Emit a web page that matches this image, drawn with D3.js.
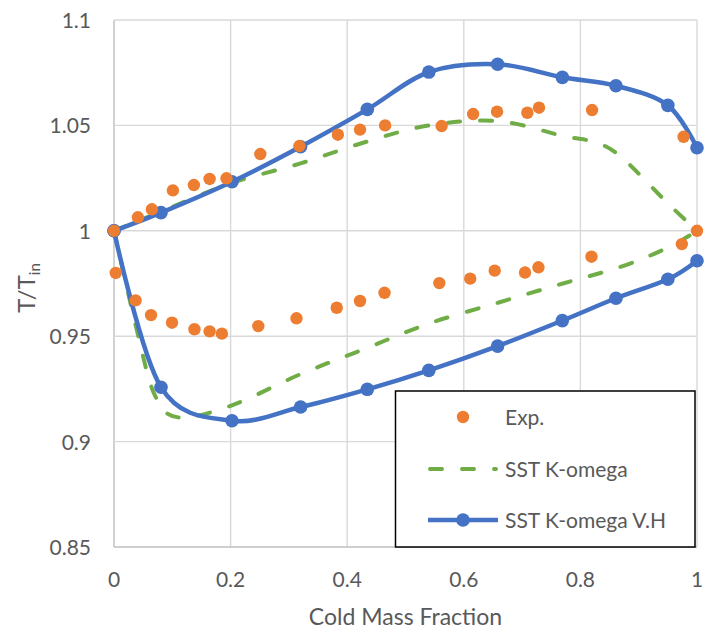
<!DOCTYPE html>
<html>
<body style="margin: 0; background: #fff">
  <script src="https://d3js.org/d3.v7.min.js"></script>

  <script>
    // Experimental points (hot outlet above 1, cold outlet below 1)
    const expHotX = [0, 0.041, 0.065, 0.101, 0.137, 0.164, 0.193, 0.251, 0.318, 0.384, 0.422, 0.465, 0.562, 0.616, 0.657, 0.709, 0.729, 0.820, 0.977, 1.0];
    const expHotT = [1.0, 1.0064, 1.0102, 1.0192, 1.0217, 1.0246, 1.0249, 1.0364, 1.0402, 1.0456, 1.048, 1.050, 1.0497, 1.0554, 1.0565, 1.056, 1.0584, 1.0573, 1.0446, 1.0];
    const expColdX = [0.003, 0.037, 0.0635, 0.0995, 0.138, 0.164, 0.185, 0.2475, 0.313, 0.382, 0.422, 0.464, 0.558, 0.611, 0.653, 0.705, 0.728, 0.819, 0.974];
    const expColdT = [0.980, 0.967, 0.960, 0.9564, 0.9533, 0.9523, 0.9512, 0.9548, 0.9585, 0.9635, 0.9667, 0.9706, 0.9752, 0.9773, 0.9811, 0.9802, 0.9827, 0.9877, 0.9937];

    // SST K-omega (dashed, no markers)
    const kwHotX = [0, 0.08, 0.2, 0.32, 0.43, 0.54, 0.66, 0.77, 0.825, 0.87, 0.95, 1.0];
    const kwHotT = [1.0, 1.009, 1.0225, 1.032, 1.042, 1.050, 1.052, 1.045, 1.042, 1.035, 1.013, 1.0];
    const kwColdX = [0, 0.04, 0.07, 0.11, 0.2, 0.32, 0.43, 0.54, 0.66, 0.77, 0.87, 0.95, 1.0];
    const kwColdT = [1.0, 0.952, 0.922, 0.9115, 0.917, 0.932, 0.944, 0.956, 0.966, 0.975, 0.983, 0.992, 1.0];

    // SST K-omega V.H (solid with markers)
    const vhX = [0, 0.0806, 0.2024, 0.320, 0.4345, 0.540, 0.658, 0.769, 0.861, 0.950, 1.0];
    const vhHotT = [1.0, 1.0086, 1.0233, 1.0399, 1.0576, 1.0753, 1.079, 1.0728, 1.0688, 1.0595, 1.0394];
    const vhColdT = [1.0, 0.9258, 0.9099, 0.9164, 0.9248, 0.9338, 0.9453, 0.9574, 0.968, 0.977, 0.9858];

    const xTicks = [0, 0.2, 0.4, 0.6, 0.8, 1];
    const yTicks = [0.85, 0.9, 0.95, 1, 1.05, 1.1];
    const legendNames = ["Exp.", "SST K-omega", "SST K-omega V.H"];

    const ORANGE = "#ed7d31";
    const GREEN = "#70ad47";
    const BLUE = "#4472c4";
    const TEXT = "#595959";
    const FONT = "Lato, 'Open Sans', sans-serif";

    const width = 704;
    const height = 630;
    const plot = {left: 114, right: 697, top: 20, bottom: 547};

    const svg = d3.select("body").append("svg")
      .attr("width", width)
      .attr("height", height)
      .style("font-family", FONT);

    const x = d3.scaleLinear().domain([0, 1]).range([plot.left, plot.right]);
    const y = d3.scaleLinear().domain([0.85, 1.1]).range([plot.bottom, plot.top]);

    const zip = (xs, ys) => xs.map((v, i) => [v, ys[i]]);

    // gridlines
    const grid = svg.append("g");
    grid.selectAll(".gx")
      .data(xTicks)
      .enter()
      .append("line")
      .attr("x1", (d) => x(d))
      .attr("x2", (d) => x(d))
      .attr("y1", plot.top)
      .attr("y2", plot.bottom)
      .style("stroke", (d) => d === 0 ? "#bfbfbf" : "#d9d9d9")
      .style("stroke-width", 1.4);
    grid.selectAll(".gy")
      .data(yTicks)
      .enter()
      .append("line")
      .attr("x1", plot.left)
      .attr("x2", plot.right)
      .attr("y1", (d) => y(d))
      .attr("y2", (d) => y(d))
      .style("stroke", (d) => d === 0.85 ? "#bfbfbf" : "#d9d9d9")
      .style("stroke-width", 1.4);

    // tick labels
    svg.append("g")
      .selectAll("text")
      .data(xTicks)
      .enter()
      .append("text")
      .attr("x", (d) => x(d))
      .attr("y", 587)
      .attr("text-anchor", "middle")
      .style("font-size", "21px")
      .style("fill", TEXT)
      .text((d) => d3.format("")(d));
    svg.append("g")
      .selectAll("text")
      .data(yTicks)
      .enter()
      .append("text")
      .attr("x", 91)
      .attr("y", (d) => y(d) + 8)
      .attr("text-anchor", "end")
      .style("font-size", "21px")
      .style("fill", TEXT)
      .text((d) => d3.format("")(d));

    // axis titles
    svg.append("text")
      .attr("x", (plot.left + plot.right) / 2)
      .attr("y", 625)
      .attr("text-anchor", "middle")
      .style("font-size", "23px")
      .style("fill", TEXT)
      .text("Cold Mass Fraction");

    const yTitle = svg.append("text")
      .attr("transform", "translate(35,288) rotate(-90)")
      .attr("text-anchor", "middle")
      .style("font-size", "24px")
      .style("fill", TEXT);
    yTitle.append("tspan").text("T/T");
    yTitle.append("tspan")
      .attr("dy", 5)
      .style("font-size", "15px")
      .text("in");

    const smooth = d3.line()
      .x((d) => x(d[0]))
      .y((d) => y(d[1]))
      .curve(d3.curveCardinal.tension(0));

    // SST K-omega
    [zip(kwHotX, kwHotT), zip(kwColdX, kwColdT)].forEach((pts) => {
      svg.append("path")
        .attr("d", smooth(pts))
        .style("fill", "none")
        .style("stroke", GREEN)
        .style("stroke-width", 4)
        .style("stroke-dasharray", "12,20")
        .style("stroke-linecap", "round");
    });

    // SST K-omega V.H
    [zip(vhX, vhHotT), zip(vhX, vhColdT)].forEach((pts) => {
      svg.append("path")
        .attr("d", smooth(pts))
        .style("fill", "none")
        .style("stroke", BLUE)
        .style("stroke-width", 4.5);
      svg.append("g")
        .selectAll("circle")
        .data(pts)
        .enter()
        .append("circle")
        .attr("cx", (d) => x(d[0]))
        .attr("cy", (d) => y(d[1]))
        .attr("r", 6.8)
        .style("fill", BLUE);
    });

    // Exp.
    const expPts = zip(expHotX, expHotT).concat(zip(expColdX, expColdT));
    svg.append("g")
      .selectAll("circle")
      .data(expPts)
      .enter()
      .append("circle")
      .attr("cx", (d) => x(d[0]))
      .attr("cy", (d) => y(d[1]))
      .attr("r", 6.2)
      .style("fill", ORANGE);

    // legend
    const lg = svg.append("g");
    lg.append("rect")
      .attr("x", 395.5)
      .attr("y", 391)
      .attr("width", 299.5)
      .attr("height", 156)
      .style("fill", "#fff")
      .style("stroke", "#000")
      .style("stroke-width", 1.5);

    const rows = [417, 469, 520];
    lg.append("circle")
      .attr("cx", 463).attr("cy", rows[0]).attr("r", 6.2)
      .style("fill", ORANGE);
    lg.append("line")
      .attr("x1", 430).attr("x2", 496).attr("y1", rows[1]).attr("y2", rows[1])
      .style("stroke", GREEN)
      .style("stroke-width", 4)
      .style("stroke-dasharray", "12,20")
      .style("stroke-linecap", "round");
    lg.append("line")
      .attr("x1", 428).attr("x2", 498).attr("y1", rows[2]).attr("y2", rows[2])
      .style("stroke", BLUE)
      .style("stroke-width", 4.5);
    lg.append("circle")
      .attr("cx", 463).attr("cy", rows[2]).attr("r", 6.8)
      .style("fill", BLUE);

    lg.selectAll("text")
      .data(legendNames)
      .enter()
      .append("text")
      .attr("x", 505)
      .attr("y", (d, i) => rows[i] + 8)
      .style("font-size", "21px")
      .style("fill", TEXT)
      .text((d) => d);
  </script>
</body>
</html>
